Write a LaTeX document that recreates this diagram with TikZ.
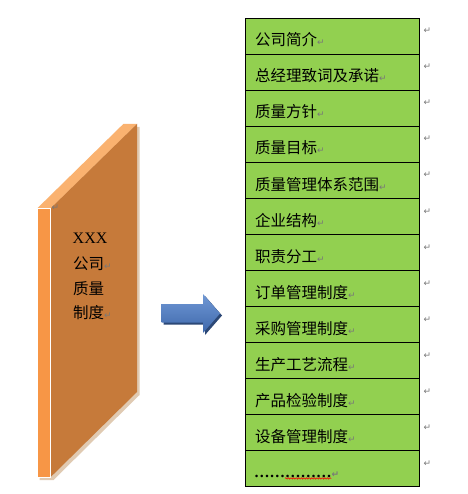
\documentclass[tikz,border=0pt]{standalone}
\usepackage{fontspec}
\setmainfont{Liberation Serif}
\newfontfamily\cjk{Noto Sans CJK SC}
\newfontfamily\dv{DejaVu Sans}
\usetikzlibrary{decorations.pathmorphing}
\definecolor{rowgreen}{RGB}{146,208,80}
\definecolor{markgray}{RGB}{120,120,120}
\definecolor{stripor}{RGB}{247,150,70}
\definecolor{bookbrown}{RGB}{198,122,58}
\definecolor{booktop}{RGB}{250,178,112}
\definecolor{bookshadow}{RGB}{224,202,178}
\definecolor{arrtop}{RGB}{112,152,212}
\definecolor{arrbot}{RGB}{62,104,172}
\definecolor{arrshadow}{RGB}{44,72,118}
\newcommand{\pmk}{{\dv\fontsize{9}{9}\selectfont\textcolor{markgray}{↵}}}
\begin{document}
\begin{tikzpicture}[x=1pt,y=-1pt,
  rowbox/.style={draw=black, line width=1pt, fill=rowgreen, minimum width=174pt, minimum height=36pt, inner sep=0pt, anchor=north west},
  rowtext/.style={anchor=base west, inner sep=0pt, font=\cjk\fontsize{15.5}{15.5}\selectfont},
  pmark/.style={anchor=base west, inner sep=0pt, text=markgray, font=\dv\fontsize{9}{9}\selectfont},
  booktext/.style={anchor=base west, inner sep=0pt, font=\cjk\fontsize{15.5}{15.5}\selectfont}]
\useasboundingbox (0,0) rectangle (467,494);
\fill[white] (0,0) rectangle (467,494);
% book
\fill[bookshadow] (39.5,211) -- (125.5,127) -- (139.5,127) -- (139.5,395) -- (53.5,480) -- (39.5,480) -- cycle;
\fill[booktop] (37.3,208.3) -- (123.3,124) -- (137,124) -- (50.7,208.3) -- cycle;
\fill[bookbrown] (50.7,208.3) -- (137,124) -- (137,392) -- (50.7,477) -- cycle;
\fill[stripor] (37.3,208.3) rectangle (50.7,477);
\draw[white, line width=0.7pt] (37.3,208.3) rectangle (50.7,477);
\node[pmark] (bm0) at (51.5,210) {↵};
\node[anchor=base west, inner sep=0pt, font=\fontsize{16}{16}\selectfont] (bx) at (72.5,243) {XXX};
\node[booktext] (b1) at (73,269) {公司\pmk};
\node[booktext] (b2) at (73,294) {质量};
\node[booktext] (b3) at (73,318) {制度\pmk};
% arrow
\fill[arrshadow] (163.7,306) -- (205,306) -- (205,296) -- (222,315.5) -- (205,335) -- (205,324.7) -- (163.7,324.7) -- cycle;
\shade[top color=arrtop, bottom color=arrbot] (161.7,304) -- (203,304) -- (203,294) -- (220,313.5) -- (203,333) -- (203,322.7) -- (161.7,322.7) -- cycle;
% table
\foreach \t [count=\i from 0] in {公司简介,总经理致词及承诺,质量方针,质量目标,质量管理体系范围,企业结构,职责分工,订单管理制度,采购管理制度,生产工艺流程,产品检验制度,设备管理制度,X}{
  \node[rowbox] (r\i) at (245,18+36*\i) {};
  \node[pmark] (m\i) at (423.5,34+36*\i) {↵};
}
\foreach \t [count=\i from 0] in {公司简介,总经理致词及承诺,质量方针,质量目标,质量管理体系范围,企业结构,职责分工,订单管理制度,采购管理制度,生产工艺流程,产品检验制度,设备管理制度}{
  \node[rowtext] (t\i) at (255,46+36*\i) {\t\pmk};
}
\node[anchor=base west, inner sep=0pt, font=\bfseries\fontsize{15.5}{15.5}\selectfont] (t12) at (254,477) {……………\pmk};
\draw[red, line width=0.6pt, decorate, decoration={snake, amplitude=0.7pt, segment length=2.6pt}] ([xshift=31pt,yshift=-1pt]t12.south west) -- ([xshift=-8pt,yshift=-1pt]t12.south east);
\end{tikzpicture}
\end{document}
